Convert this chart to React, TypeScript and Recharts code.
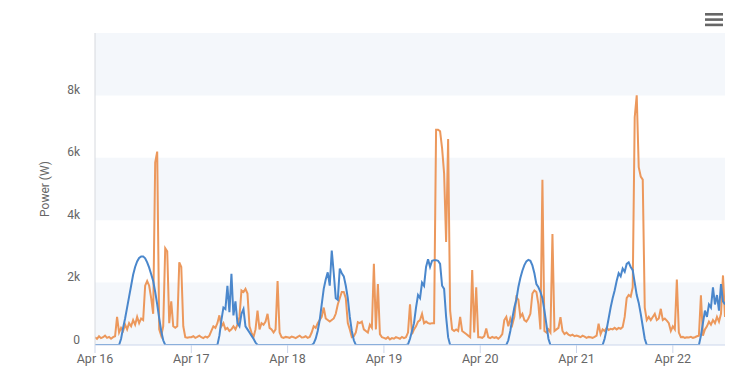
import React from "react";
import { LineChart, Line, XAxis, YAxis, ReferenceArea } from "recharts";

// Half-hourly samples, one array per day (Apr 22 ends at 13:00)
const dayLabels = ["Apr 16", "Apr 17", "Apr 18", "Apr 19", "Apr 20", "Apr 21", "Apr 22"];

const solar16 = [0,0,0,0,0,0,0,0,0,0,0,0,0,200,550,850,1200,1550,1900,2250,2500,2680,2790,2840,2840,2780,2650,2480,2270,2050,1700,1300,850,450,150,0,0,0,0,0,0,0,0,0,0,0,0,0];
const solar17 = [0,0,0,0,0,0,0,0,0,0,0,0,0,0,300,800,1200,1150,1900,1050,2280,950,1400,700,600,1000,1150,600,500,400,300,200,80,0,0,0,0,0,0,0,0,0,0,0,0,0,0,0];
const solar18 = [0,0,0,0,0,0,0,0,0,0,0,0,0,50,200,450,800,1300,1800,2100,2330,1900,3030,2300,1500,1450,2450,2300,2200,1900,1500,900,450,150,0,0,0,0,0,0,0,0,0,0,0,0,0,0];
const solar19 = [0,0,0,0,0,0,0,0,0,0,0,0,20,200,450,700,1200,1600,1500,2000,1900,2500,2750,2500,2700,2720,2720,2700,2600,1900,1800,900,250,0,0,0,0,0,0,0,0,0,0,0,0,0,0,0];
const solar20 = [0,0,0,0,0,0,0,0,0,0,0,0,0,0,150,450,850,1200,1450,1850,2150,2380,2560,2680,2730,2700,2550,2300,1950,1850,1700,1500,1100,650,200,0,0,0,0,0,0,0,0,0,0,0,0,0];
const solar21 = [0,0,0,0,0,0,0,0,0,0,0,0,0,0,200,500,850,1200,1500,1750,2050,2300,2200,2450,2350,2600,2650,2500,2400,2000,1600,1350,1000,600,200,0,0,0,0,0,0,0,0,0,0,0,0,0];
const solar22 = [0,0,0,0,0,0,0,0,0,0,0,0,0,0,300,700,1100,900,1300,1200,1850,1300,1600,1100,1950,1400,1300];

const use16 = [250,200,280,220,250,300,230,260,200,250,280,900,400,550,450,650,500,700,600,800,650,900,700,850,800,1900,2050,1900,1500,1000,5850,6200,500,300,600,3100,3000,700,1400,600,550,600,2650,2500,600,250,230,250];
const use17 = [250,280,230,260,300,250,220,270,240,300,450,600,550,700,950,600,700,500,550,450,500,600,500,650,900,1750,1700,1800,1650,600,400,250,500,1100,500,700,650,750,1000,550,500,400,500,2050,400,250,230,260];
const use18 = [250,230,270,250,220,260,300,240,250,280,230,260,400,600,550,700,800,900,1200,850,800,750,800,850,1000,1300,1500,1700,1700,1500,700,500,250,280,400,730,700,750,500,450,400,650,550,2600,500,1950,350,250];
const use19 = [230,200,250,180,220,200,250,230,200,260,220,250,400,1300,350,500,600,750,800,1000,700,750,700,680,700,700,6900,6900,6850,6300,5500,3300,6600,1100,500,450,500,450,900,450,400,350,300,250,2400,400,1850,250];
const use20 = [250,230,280,530,250,220,260,230,250,200,260,350,800,900,600,850,650,900,1530,1450,900,1000,800,750,850,1000,1650,1750,1700,1300,500,5300,450,400,500,400,3560,450,500,550,890,450,350,400,330,300,330,280];
const use21 = [300,280,250,300,270,230,260,250,230,260,300,680,350,500,450,550,480,520,500,550,500,550,520,580,900,1500,1600,1550,1850,7300,8000,5700,5400,5300,1200,800,900,800,900,1000,800,850,1160,800,850,780,700,450];
const use22 = [600,500,2100,400,250,260,230,250,240,260,230,250,280,300,1590,300,500,600,750,650,800,700,900,750,1000,2230,900];

const solarDays = [solar16, solar17, solar18, solar19, solar20, solar21, solar22];
const useDays = [use16, use17, use18, use19, use20, use21, use22];

const yTicks = [0, 2000, 4000, 6000, 8000];
const bands = [[0, 2000], [4000, 6000], [8000, 10000]];

const data: { t: number; solar: number; use: number }[] = [];
solarDays.forEach((day, d) => {
  day.forEach((v, i) => {
    data.push({ t: d * 24 + i * 0.5, solar: v, use: useDays[d][i] });
  });
});

const xTicks = dayLabels.map((_, i) => i * 24);

const FONT = "Roboto, 'Open Sans', sans-serif";

const YTick = (props: any) => {
  const { y, payload } = props;
  const v = payload.value;
  return (
    <text x={80} y={y} dy={-1.5} textAnchor="end" fill="#666" fontSize={12} fontFamily={FONT}>
      {v === 0 ? "0" : `${v / 1000}k`}
    </text>
  );
};

export default function App() {
  return (
    <div style={{ position: "relative", width: 740, height: 380, margin: -8, background: "#fff" }}>
      <LineChart width={740} height={380} data={data} margin={{ top: 33, right: 15, bottom: 0, left: 0 }}>
        {bands.map(([a, b], i) => (
          <ReferenceArea key={i} y1={a} y2={b} fill="#f4f7fb" fillOpacity={1} stroke="none" ifOverflow="visible" />
        ))}
        <XAxis
          dataKey="t"
          type="number"
          domain={[0, 157]}
          ticks={xTicks}
          tickFormatter={(v: number) => dayLabels[v / 24]}
          height={35}
          tickSize={8}
          tickMargin={1}
          axisLine={{ stroke: "#ccd6eb" }}
          tickLine={{ stroke: "#ccd6eb" }}
          tick={{ fill: "#666", fontSize: 12.5, fontFamily: FONT }}
          interval={0}
          allowDataOverflow
        />
        <YAxis
          type="number"
          domain={[0, 10000]}
          ticks={yTicks}
          width={95}
          axisLine={{ stroke: "#d6d9de" }}
          tickLine={false}
          tick={<YTick />}
          interval={0}
          allowDataOverflow
        />
        <Line type="linear" dataKey="use" stroke="#ec985c" strokeWidth={2} dot={false} isAnimationActive={false} />
        <Line type="linear" dataKey="solar" stroke="#4a87cc" strokeWidth={2} dot={false} isAnimationActive={false} />
      </LineChart>
      <svg width={740} height={380} style={{ position: "absolute", left: 0, top: 0, pointerEvents: "none" }}>
        <text
          x={45}
          y={189}
          transform="rotate(-90, 45, 189)"
          textAnchor="middle"
          dominantBaseline="central"
          fill="#666"
          fontSize={12}
          fontFamily={FONT}
        >
          Power (W)
        </text>
        <rect x={705} y={13} width={18} height={2.6} fill="#666" />
        <rect x={705} y={18.3} width={18} height={2.6} fill="#666" />
        <rect x={705} y={23.6} width={18} height={2.6} fill="#666" />
      </svg>
    </div>
  );
}
